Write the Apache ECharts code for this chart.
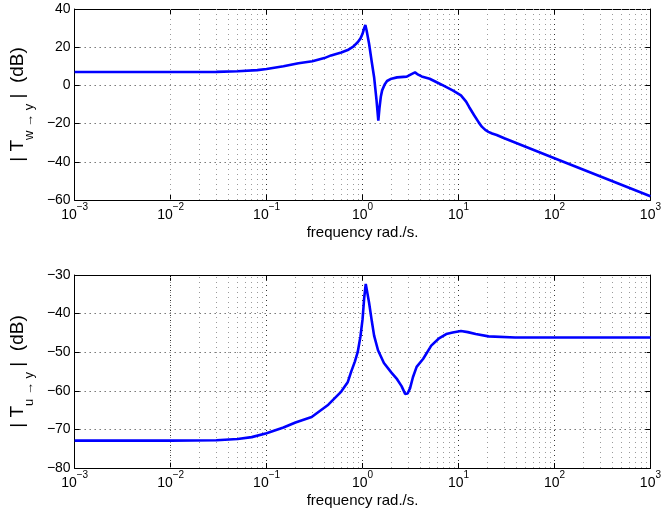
<!DOCTYPE html>
<html><head><meta charset="utf-8">
<script src="https://cdn.jsdelivr.net/npm/echarts@6/dist/echarts.min.js"></script>
<style>html,body{margin:0;padding:0;background:#fff}#c{width:664px;height:516px}</style>
</head><body><div id="c"></div>
<script>
// ---- data ----
const freqTop = [0.001,0.01,0.03,0.05,0.08,0.1,0.15,0.215,0.3,0.4,0.47,0.6,0.7,0.8,0.89,0.95,1.0,1.04,1.07,1.1,1.17,1.25,1.32,1.4,1.46,1.5,1.55,1.6,1.7,1.8,2.0,2.29,2.89,3.2,3.52,3.8,4.13,5.0,6.0,6.9,8.7,10.6,12.0,12.9,14.5,16.3,17.5,19,20.5,22.4,25,30,100,1000];
const magTop  = [7.0,7.0,7.1,7.4,8.0,8.6,10.0,11.6,12.6,14.3,15.7,17.2,18.5,20.3,22.6,24.5,27.0,30.0,31.6,29.0,21.8,12.0,4.3,-8.0,-18.5,-12.0,-6.0,-2.6,0.5,2.3,3.5,4.2,4.6,5.8,6.8,5.6,4.7,3.5,1.5,0.0,-2.6,-5.2,-8.5,-11.3,-15.5,-19.5,-21.6,-23.3,-24.3,-25.2,-26.0,-27.7,-38.1,-58.0];
const freqBot = [0.001,0.01,0.03,0.05,0.07,0.1,0.15,0.2,0.295,0.44,0.6,0.7,0.76,0.83,0.89,0.95,1.0,1.04,1.08,1.12,1.17,1.25,1.32,1.45,1.67,2.0,2.29,2.55,2.78,2.95,3.13,3.35,3.66,4.29,5.2,6.2,7.45,8.7,10.6,12.5,15.1,20.6,38.9,100,1000];
const magBot  = [-72.9,-72.9,-72.8,-72.5,-72.0,-71.0,-69.5,-68.2,-66.8,-63.6,-60.2,-57.8,-55.1,-52.5,-50.0,-46.0,-41.5,-36.0,-32.3,-34.5,-37.2,-42.0,-45.7,-49.5,-52.8,-55.3,-57.0,-58.8,-60.8,-60.7,-59.3,-56.5,-53.8,-51.7,-48.3,-46.5,-45.3,-44.9,-44.5,-44.8,-45.3,-45.9,-46.2,-46.2,-46.2];
const xMin = 1e-3, xMax = 1e3;
const yTop = {min:-60, max:40, interval:20};
const yBot = {min:-80, max:-30, interval:10};
const minorMult = [2,3,4,5,6,7,8,9];
const decadeStarts = [1e-3,1e-2,1e-1,1,10,100];
const xName = 'frequency rad./s.';

const FONT = 'Liberation Sans, Arial, Helvetica, sans-serif';
const minorVals = [];
decadeStarts.forEach(d => minorMult.forEach(m => minorVals.push(d*m)));

function expLabel(v){
  const e = Math.round(Math.log10(v));
  return '{b|10}{s|' + String(e).replace('-', '\u2212') + '}';
}
const xRich = {
  b:{fontSize:14, fontFamily:FONT, color:'#000', lineHeight:20, verticalAlign:'bottom'},
  s:{fontSize:10, fontFamily:FONT, color:'#000', lineHeight:20, verticalAlign:'top'}
};
function xAxisMain(gi){
  return {
    type:'log', logBase:10, min:xMin, max:xMax, interval:1, gridIndex:gi,
    axisLine:{show:true, onZero:false, lineStyle:{color:'#000', width:1}},
    axisTick:{show:true, inside:true, length:5, lineStyle:{color:'#000'}},
    splitLine:{show:true, lineStyle:{color:'#333', width:1, type:[1,4]}},
    axisLabel:{formatter:expLabel, rich:xRich, margin:2, hideOverlap:false, showMinLabel:true, showMaxLabel:true},
    name:xName, nameLocation:'middle', nameGap:25,
    nameTextStyle:{fontSize:15, fontFamily:FONT, color:'#000'}
  };
}
function xAxisTop(gi){
  return {
    type:'log', logBase:10, min:xMin, max:xMax, interval:1, gridIndex:gi, position:'top',
    axisLine:{show:true, onZero:false, lineStyle:{color:'#000', width:1}},
    axisTick:{show:true, inside:true, length:5, lineStyle:{color:'#000'}},
    splitLine:{show:false}, axisLabel:{show:false}
  };
}
function yName(sub){
  return '{a|| T}{s|' + sub + '}{a| |  (dB)}';
}
const yRich = {
  a:{fontSize:19, fontFamily:FONT, color:'#000', lineHeight:28, verticalAlign:'top'},
  s:{fontSize:13, fontFamily:FONT, color:'#000', lineHeight:28, verticalAlign:'bottom'}
};
function yAxisMain(gi, r, sub){
  return {
    type:'value', min:r.min, max:r.max, interval:r.interval, gridIndex:gi,
    axisLine:{show:true, onZero:false, lineStyle:{color:'#000', width:1}},
    axisTick:{show:true, inside:true, length:5, lineStyle:{color:'#000'}},
    splitLine:{show:true, lineStyle:{color:'#333', width:1, type:[1,4]}},
    axisLabel:{fontSize:14, fontFamily:FONT, color:'#000', margin:4,
      formatter:v => String(v).replace('-', '\u2212')},
    name:yName(sub), nameLocation:'middle', nameGap:36,
    nameTextStyle:{rich:yRich}
  };
}
function yAxisRight(gi, r){
  return {
    type:'value', min:r.min, max:r.max, interval:r.interval, gridIndex:gi, position:'right',
    axisLine:{show:true, onZero:false, lineStyle:{color:'#000', width:1}},
    axisTick:{show:true, inside:true, length:5, lineStyle:{color:'#000'}},
    splitLine:{show:false}, axisLabel:{show:false}
  };
}
const minorLine = {
  silent:true, symbol:['none','none'], label:{show:false},
  lineStyle:{color:'#9a9a9a', width:1, type:[1,4]},
  emphasis:{disabled:true},
  data: minorVals.map(v => ({xAxis:v}))
};

const chart = echarts.init(document.getElementById('c'), null, {renderer:'canvas'});
chart.setOption({
  animation:false,
  backgroundColor:'#fff',
  grid:[
    {left:73, top:9, width:583, height:191},
    {left:73, top:275, width:583, height:193}
  ],
  xAxis:[xAxisMain(0), xAxisTop(0), xAxisMain(1), xAxisTop(1)],
  yAxis:[yAxisMain(0, yTop, 'w \u2192 y'), yAxisRight(0, yTop), yAxisMain(1, yBot, 'u \u2192 y'), yAxisRight(1, yBot)],
  series:[
    {type:'line', xAxisIndex:0, yAxisIndex:0, showSymbol:false, symbol:'none',
     data:freqTop.map((f,i)=>[f, magTop[i]]),
     lineStyle:{color:'#0000ff', width:2.6}, z:5, markLine:minorLine},
    {type:'line', xAxisIndex:2, yAxisIndex:2, showSymbol:false, symbol:'none',
     data:freqBot.map((f,i)=>[f, magBot[i]]),
     lineStyle:{color:'#0000ff', width:2.6}, z:5, markLine:minorLine}
  ]
});
</script>
</body></html>
